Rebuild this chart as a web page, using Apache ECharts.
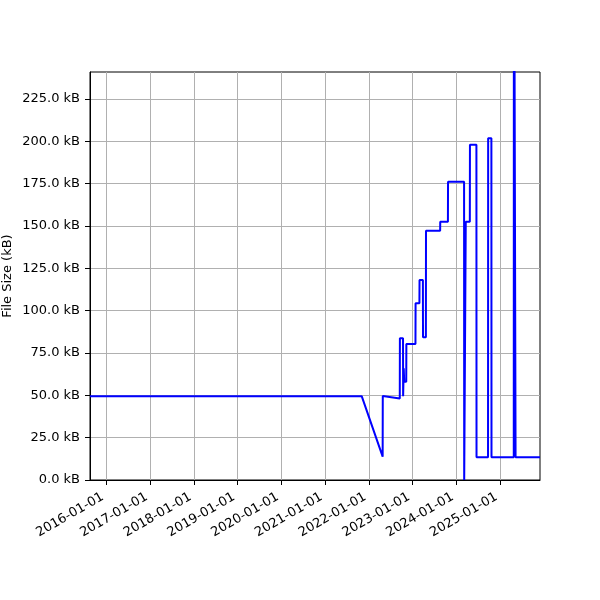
<!DOCTYPE html>
<html>
<head>
<meta charset="utf-8">
<script src="https://cdn.jsdelivr.net/npm/echarts@6/dist/echarts.min.js"></script>
<style>
html,body{margin:0;padding:0;background:#fff;}
#chart{width:600px;height:600px;}
</style>
</head>
<body>
<div id="chart"></div>
<script>
// ---- data ----
const dates = [
  '2015-08-18','2021-11-03','2022-04-27','2022-04-28','2022-09-17','2022-09-18',
  '2022-10-14','2022-10-15','2022-10-20','2022-10-24','2022-11-10','2022-11-11',
  '2023-01-26','2023-01-27','2023-02-28','2023-03-01','2023-03-29','2023-03-30',
  '2023-04-23','2023-04-24','2023-08-20','2023-08-21','2023-10-24','2023-10-25',
  '2024-03-07','2024-03-08','2024-03-20','2024-03-21','2024-04-24','2024-04-25',
  '2024-06-18','2024-06-19','2024-09-23','2024-09-24','2024-10-21','2024-10-22',
  '2025-04-26','2025-04-27','2025-05-10','2025-05-11','2025-12-01'
];
const sizesKB = [
  49.5, 49.5, 13.8, 49.6, 48.2, 83.7,
  83.7, 49.5, 66, 58, 58, 80.3,
  80.3, 104.4, 104.4, 118.1, 118.1, 84.3,
  84.3, 147.3, 147.3, 152.6, 152.6, 176.2,
  176.2, 0, 0, 152.6, 152.6, 198,
  198, 13.4, 13.4, 201.8, 201.8, 13.4,
  13.4, 400, 400, 13.4, 13.4
];
const xTickLabels = ['2016-01-01','2017-01-01','2018-01-01','2019-01-01','2020-01-01',
  '2021-01-01','2022-01-01','2023-01-01','2024-01-01','2025-01-01'];
const yTickValues = [0, 25, 50, 75, 100, 125, 150, 175, 200, 225];
const xRange = ['2015-08-18', '2025-12-01'];
const yRange = [0, 241];

function parseDay(s) {
  const p = s.split('-').map(Number);
  return Date.UTC(p[0], p[1] - 1, p[2]);
}
function fmtDay(v) {
  const d = new Date(v);
  const mm = String(d.getUTCMonth() + 1).padStart(2, '0');
  const dd = String(d.getUTCDate()).padStart(2, '0');
  return d.getUTCFullYear() + '-' + mm + '-' + dd;
}

const seriesData = dates.map((d, i) => [parseDay(d), sizesKB[i]]);
const xTicks = xTickLabels.map(parseDay);
const font = 'DejaVu Sans';

const chart = echarts.init(document.getElementById('chart'), null, {renderer: 'canvas'});
chart.setOption({
  animation: false,
  backgroundColor: '#fff',
  grid: {
    left: 90, right: 60, top: 72, bottom: 120,
    containLabel: false,
    outerBoundsMode: 'none',
    show: true, borderColor: '#000', borderWidth: 1, backgroundColor: 'transparent'
  },
  xAxis: {
    type: 'value',
    min: parseDay(xRange[0]),
    max: parseDay(xRange[1]),
    axisLine: {show: true, lineStyle: {color: '#000', width: 1}},
    axisTick: {show: true, inside: false, length: 5, lineStyle: {color: '#000', width: 1},
      customValues: xTicks},
    axisLabel: {
      customValues: xTicks,
      rotate: 30, margin: 14, color: '#000', fontFamily: font, fontSize: 13,
      padding: [0, 4, 0, 0],
      formatter: v => fmtDay(v),
      hideOverlap: false
    },
    splitLine: {show: true, lineStyle: {color: '#b0b0b0', width: 1}}
  },
  yAxis: {
    type: 'value',
    min: yRange[0], max: yRange[1],
    name: 'File Size (kB)',
    nameLocation: 'middle',
    nameGap: 76,
    nameMoveOverlap: false,
    nameRotate: 90,
    nameTextStyle: {color: '#000', fontFamily: font, fontSize: 13},
    axisLine: {show: true, lineStyle: {color: '#000', width: 1}},
    axisTick: {show: true, inside: false, length: 5, lineStyle: {color: '#000', width: 1},
      customValues: yTickValues},
    axisLabel: {
      customValues: yTickValues,
      margin: 10, color: '#000', fontFamily: font, fontSize: 13,
      formatter: v => v.toFixed(1) + ' kB'
    },
    splitLine: {show: true, lineStyle: {color: '#b0b0b0', width: 1}}
  },
  series: [{
    type: 'line',
    data: seriesData,
    showSymbol: false,
    symbol: 'none',
    clip: true,
    lineStyle: {color: '#0000ff', width: 2},
    itemStyle: {color: '#0000ff'}
  }]
});
</script>
</body>
</html>
